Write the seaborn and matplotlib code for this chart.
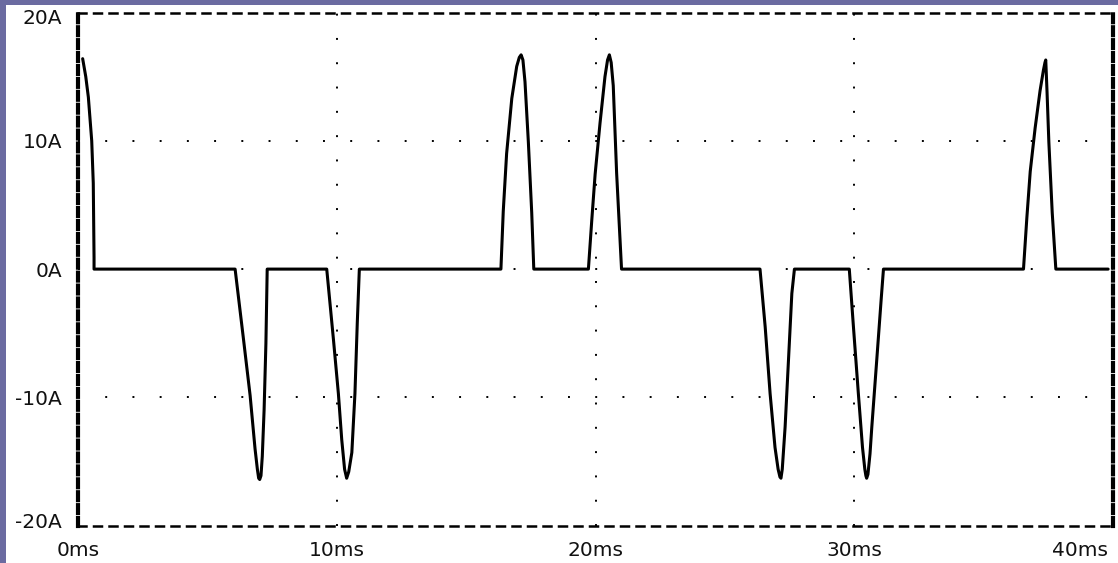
import numpy as np
import pandas as pd
import matplotlib
matplotlib.use("Agg")
import matplotlib.pyplot as plt
import matplotlib.transforms as mtransforms
from matplotlib.patches import Rectangle
import seaborn as sns

# values: time in ms, current in A
start_t = [0.18, 0.3, 0.4, 0.53, 0.59, 0.62, 0.62]
start_i = [16.4, 15.0, 13.4, 10.0, 6.7, 0.9, 0.0]

neg1_t = [6.07, 6.39, 6.65, 6.84, 6.93, 6.98, 7.02, 7.07, 7.12, 7.19, 7.26, 7.31]
neg1_i = [0.0, -5.4, -9.85, -14.0, -15.6, -16.3, -16.4, -16.1, -14.6, -11.0, -5.8, 0.0]

neg2_t = [9.61, 9.87, 10.06, 10.19, 10.3, 10.38, 10.46, 10.58, 10.7, 10.79, 10.87]
neg2_i = [0.0, -5.5, -9.7, -13.3, -15.6, -16.3, -15.8, -14.3, -9.7, -4.2, 0.0]

pos1_t = [16.34, 16.43, 16.56, 16.76, 16.95, 17.05, 17.12, 17.19, 17.27, 17.4, 17.53, 17.61]
pos1_i = [0.0, 4.5, 9.0, 13.3, 15.8, 16.5, 16.7, 16.3, 14.6, 9.9, 4.4, 0.0]

pos2_t = [19.72, 19.85, 19.98, 20.17, 20.36, 20.46, 20.53, 20.6, 20.68, 20.81, 21.0]
pos2_i = [0.0, 3.8, 7.4, 11.4, 15.0, 16.3, 16.7, 16.1, 14.3, 7.5, 0.0]

neg3_t = [26.35, 26.55, 26.74, 26.93, 27.05, 27.12, 27.16, 27.21, 27.32, 27.45, 27.58, 27.68]
neg3_i = [0.0, -4.5, -9.7, -13.9, -15.6, -16.2, -16.3, -15.6, -12.3, -7.1, -1.9, 0.0]

neg4_t = [29.8, 29.96, 30.15, 30.31, 30.4, 30.44, 30.47, 30.52, 30.6, 30.67, 30.86, 31.03, 31.12]
neg4_i = [0.0, -4.5, -9.7, -13.9, -15.6, -16.1, -16.3, -16.0, -14.4, -12.3, -7.1, -2.4, 0.0]

pos3_t = [36.53, 36.66, 36.79, 36.98, 37.17, 37.3, 37.36, 37.39, 37.44, 37.51, 37.64, 37.78]
pos3_i = [0.0, 4.0, 7.6, 11.0, 13.9, 15.5, 16.1, 16.3, 13.8, 9.9, 4.4, 0.0]

end_t = [39.8]
end_i = [0.0]

x_ticks = [0, 10, 20, 30, 40]
x_labels = ["0ms", "10ms", "20ms", "30ms", "40ms"]
y_ticks = [-20, -10, 0, 10, 20]
y_labels = ["-20A", "-10A", "0A", "10A", "20A"]

t_all = start_t + neg1_t + neg2_t + pos1_t + pos2_t + neg3_t + neg4_t + pos3_t + end_t
i_all = start_i + neg1_i + neg2_i + pos1_i + pos2_i + neg3_i + neg4_i + pos3_i + end_i
df = pd.DataFrame({"t": t_all, "i": i_all})

sns.set_style("white")
plt.rcParams['font.family'] = ['DejaVu Sans']

W, H = 1118, 563
fig = plt.figure(figsize=(W / 100, H / 100), dpi=100)
fig.patch.set_facecolor('#6b6ba1')
fig.add_artist(Rectangle((6 / W, 0), 1, 1 - 4.5 / H, transform=fig.transFigure,
                         facecolor='white', edgecolor='none', zorder=-10))

ax = fig.add_axes([78 / W, 1 - 525.7 / H, (1113.3 - 78) / W, (525.7 - 12.5) / H])
ax.set_facecolor('white')

sns.lineplot(data=df, x="t", y="i", estimator=None, sort=False,
             color='black', lw=2.2, ax=ax, zorder=3)

ax.set_xlim(0, 40)
ax.set_ylim(-20, 20)
ax.set_xticks(x_ticks)
ax.set_xticklabels(x_labels)
ax.set_yticks(y_ticks)
ax.set_yticklabels(y_labels)
ax.set_xlabel("")
ax.set_ylabel("")

ax.tick_params(direction='out', length=5, width=1.5, color='black',
               labelsize=14.5, labelcolor='#111111')
ax.tick_params(axis='x', pad=6)
ax.tick_params(axis='y', pad=6.5)

# dotted grid
ax.set_axisbelow(True)
ax.xaxis.grid(True, color='black', lw=1.4, linestyle=(0, (1, 11.5)))
ax.yaxis.grid(True, color='black', lw=1.4, linestyle=(0, (1, 13)))
for tk in [ax.xaxis.get_major_ticks()[0], ax.xaxis.get_major_ticks()[-1],
           ax.yaxis.get_major_ticks()[0], ax.yaxis.get_major_ticks()[-1]]:
    tk.gridline.set_visible(False)

# dashed frame, thicker on the sides
for side in ['left', 'right']:
    ax.spines[side].set_visible(True)
    ax.spines[side].set_color('black')
    ax.spines[side].set_linewidth(3)
    ax.spines[side].set_linestyle((0, (1.9, 1.2)))
for side in ['top', 'bottom']:
    ax.spines[side].set_visible(True)
    ax.spines[side].set_color('black')
    ax.spines[side].set_linewidth(1.8)
    ax.spines[side].set_linestyle((0, (3.2, 3.0)))

# nudge the edge labels inside the picture, like the original
ylabs = ax.get_yticklabels()
ylabs[-1].set_transform(ylabs[-1].get_transform() +
                        mtransforms.ScaledTranslation(0, -4.5 / 100, fig.dpi_scale_trans))
ylabs[0].set_transform(ylabs[0].get_transform() +
                       mtransforms.ScaledTranslation(0, 5 / 100, fig.dpi_scale_trans))
xlabs = ax.get_xticklabels()
xlabs[-1].set_horizontalalignment('right')
xlabs[-1].set_transform(xlabs[-1].get_transform() +
                        mtransforms.ScaledTranslation(-5 / 100, 0, fig.dpi_scale_trans))

fig.savefig('out.png', dpi=100, facecolor=fig.get_facecolor())
